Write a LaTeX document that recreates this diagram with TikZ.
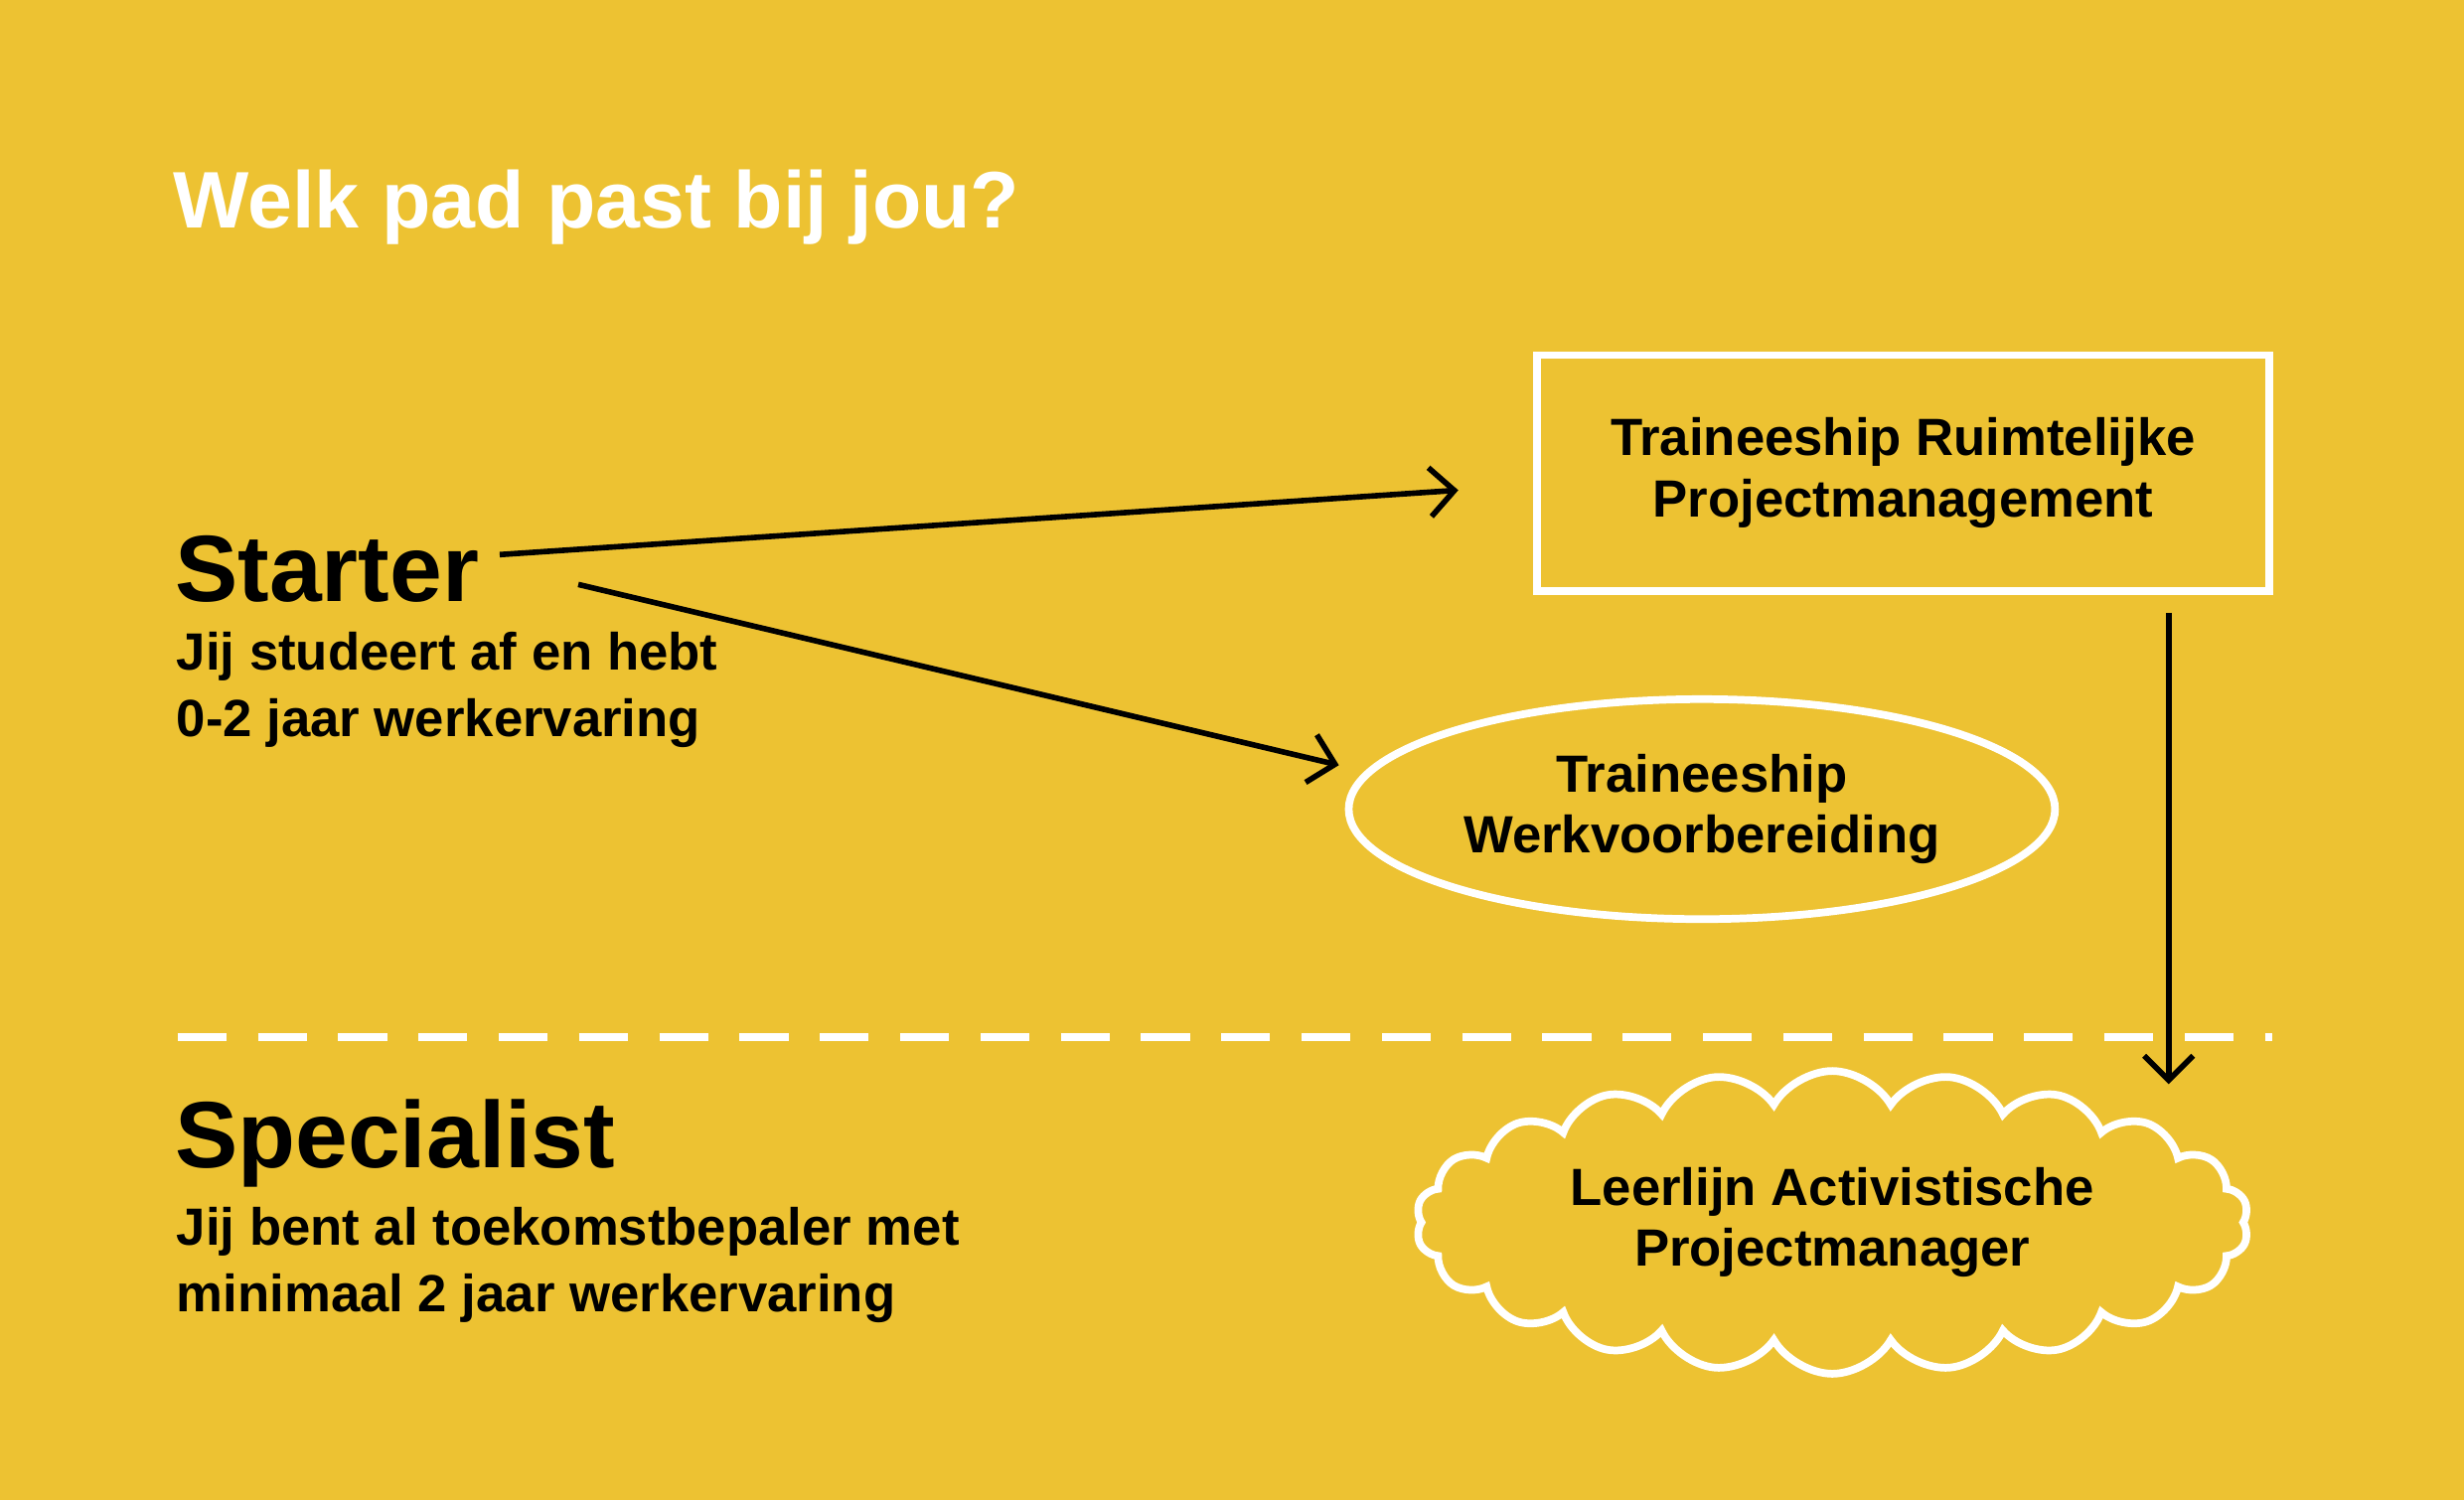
\documentclass[tikz,border=0pt]{standalone}
\usepackage{fontspec}
\setmainfont{Liberation Sans}
\usetikzlibrary{shapes.symbols,shapes.geometric,arrows.meta}
\definecolor{bg}{RGB}{237,194,50}
\begin{document}
\begin{tikzpicture}[x=0.01582cm,y=-0.01582cm,
  wl/.style={draw=white,line width=2.2pt},
  arr/.style={draw=black,line width=1.6pt,-{Straight Barb[length=7pt,width=14pt,line width=1.6pt]}},
  boxtxt/.style={font=\fontsize{15}{17.5}\selectfont\bfseries,align=center,text=black},
  sub/.style={font=\fontsize{15}{19}\selectfont\bfseries,anchor=north west,align=left,inner sep=0pt},
  head/.style={font=\fontsize{27}{30}\selectfont\bfseries,anchor=west,inner sep=0pt}]
\fill[bg] (0,0) rectangle (1568,955);
\useasboundingbox (0,0) rectangle (1568,955);
\node[anchor=west,inner sep=0pt,text=white,font=\fontsize{23}{26}\selectfont\bfseries] (title) at (110,132) {Welk pad past bij jou?};
\node[head] (starter) at (111,362) {Starter};
\node[sub] (starterTxt) at (112,402) {Jij studeert af en hebt\\0-2 jaar werkervaring};
\node[head] (spec) at (111,728) {Specialist};
\node[sub] (specTxt) at (112,768) {Jij bent al toekomstbepaler met\\minimaal 2 jaar werkervaring};
\node[wl,rectangle,minimum width=466*0.01582cm,minimum height=150*0.01582cm,boxtxt] (rp) at (1211,301) {Traineeship Ruimtelijke\\Projectmanagement};
\node[wl,ellipse,minimum width=424*0.01582cm,minimum height=140*0.01582cm,boxtxt] (wv) at (1083,515) {Traineeship\\Werkvoorbereiding};
\node[wl,cloud,cloud puffs=22,cloud puff arc=120,aspect=3.2,minimum width=530*0.01582cm,minimum height=165*0.01582cm,boxtxt] (lap) at (1166,778) {Leerlijn Activistische\\Projectmanager};
\coordinate (a1s) at (318,353);
\coordinate (a1e) at (928,312);
\coordinate (a2s) at (368,372);
\coordinate (a2e) at (852,487);
\coordinate (a3s) at (1380,390);
\coordinate (a3e) at (1380,690);
\draw[arr] (a1s) -- (a1e);
\draw[arr] (a2s) -- (a2e);
\draw[arr] (a3s) -- (a3e);
\coordinate (dl) at (113,660);
\coordinate (dr) at (1446,660);
\draw[white,line width=2.4pt,dash pattern=on 14pt off 9pt] (dl) -- (dr);
\end{tikzpicture}
\end{document}
